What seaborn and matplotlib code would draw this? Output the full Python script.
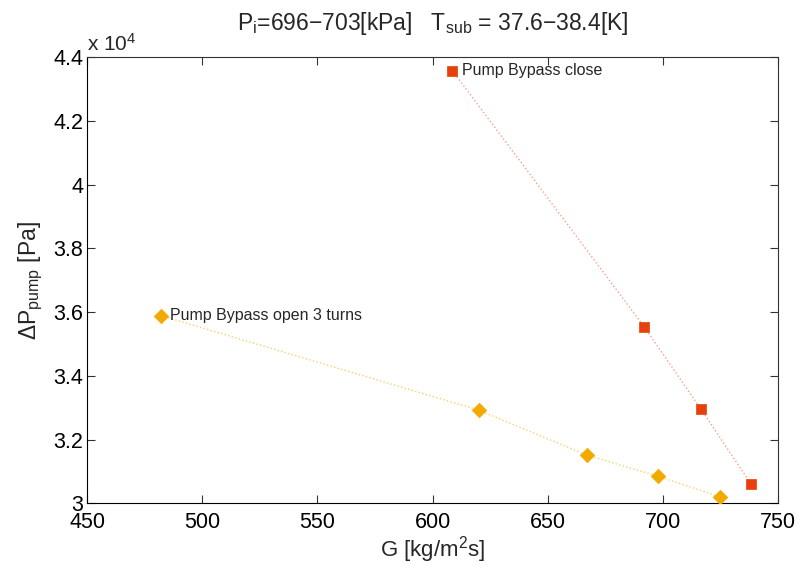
import matplotlib
matplotlib.use("Agg")
import matplotlib.pyplot as plt
import seaborn as sns
import pandas as pd
from matplotlib.ticker import FuncFormatter, MultipleLocator

# Data
close_G = [608.6, 692.0, 716.6, 738.3]
close_dP = [43580, 35530, 32950, 30600]
open_G = [482.1, 620.2, 667.0, 697.8, 724.9]
open_dP = [35890, 32920, 31510, 30850, 30200]
series_names = ["Pump Bypass close", "Pump Bypass open 3 turns"]

sns.set_theme(style="white")
plt.rcParams['font.family'] = ['Liberation Sans', 'DejaVu Sans']
plt.rcParams['mathtext.default'] = 'regular'

df = pd.DataFrame({
    "G": close_G + open_G,
    "dP": close_dP + open_dP,
    "series": [series_names[0]] * len(close_G) + [series_names[1]] * len(open_G),
})

red = "#E8400C"
orange = "#F2AA00"
line_red = "#F4A08A"
line_orange = "#F8CF70"

fig = plt.figure(figsize=(8, 5.68), dpi=100)
ax = fig.add_axes([0.109, 0.114, 0.8635, 0.785])

sns.lineplot(data=df, x="G", y="dP", hue="series", palette=[line_red, line_orange],
             linestyle=":", linewidth=1.0, legend=False, ax=ax, sort=False)
d_close = df[df.series == series_names[0]]
d_open = df[df.series == series_names[1]]
sns.scatterplot(data=d_close, x="G", y="dP", marker="s", s=55, color=red,
                edgecolor=red, linewidth=0.5, legend=False, ax=ax, zorder=3)
sns.scatterplot(data=d_open, x="G", y="dP", marker="D", s=55, color=orange,
                edgecolor=orange, linewidth=0.5, legend=False, ax=ax, zorder=3)

ax.text(close_G[0] + 4, close_dP[0], series_names[0], fontsize=11.5, va="center", ha="left")
ax.text(open_G[0] + 4, open_dP[0], series_names[1], fontsize=11.5, va="center", ha="left")

ax.set_xlim(450, 750)
ax.set_ylim(30000, 44000)
ax.xaxis.set_major_locator(MultipleLocator(50))
ax.yaxis.set_major_locator(MultipleLocator(2000))
ax.yaxis.set_major_formatter(FuncFormatter(lambda v, p: "%g" % round(v / 1e4, 2)))

for s in ax.spines.values():
    s.set_color("#333333")
    s.set_linewidth(0.8)
ax.spines['bottom'].set_color("black")
ax.spines['left'].set_color("black")
ax.tick_params(direction="in", length=6, width=0.8, colors="#333333", labelcolor="black",
               labelsize=15.5, top=True, right=True, bottom=True, left=True, pad=3)
ax.tick_params(axis="x", pad=6)

ax.set_xlabel("G [kg/m$^2$s]", fontsize=16, labelpad=1)
ax.set_ylabel(r"$\Delta$P$_{pump}$ [Pa]", fontsize=16.5, labelpad=6)
ax.set_title("P$_i$=696\u2212703[kPa]   T$_{sub}$ = 37.6\u221238.4[K]", fontsize=16.5, pad=20)
ax.text(0.0, 1.005, "x 10$^4$", transform=ax.transAxes, fontsize=15, ha="left", va="bottom")

fig.savefig("out.png", dpi=100)
